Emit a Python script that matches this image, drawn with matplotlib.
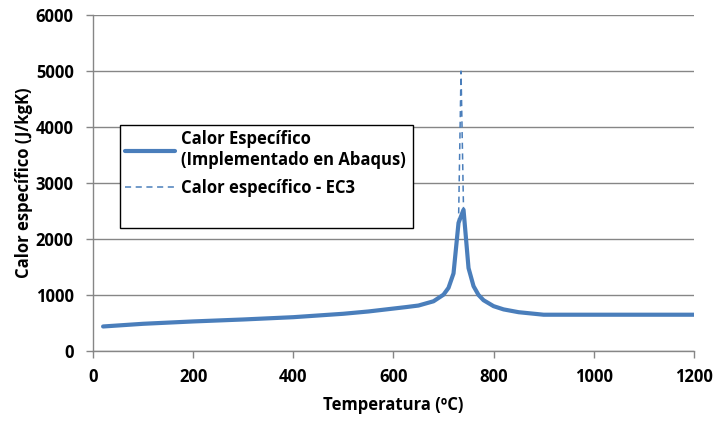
import matplotlib
matplotlib.use("Agg")
import matplotlib.pyplot as plt
from matplotlib.patches import Rectangle

plt.rcParams['font.family'] = ['Open Sans', 'DejaVu Sans']
plt.rcParams['font.weight'] = 'bold'

# Specific heat of steel vs temperature
temp_abaqus = [20, 100, 200, 300, 400, 500, 550, 600, 625, 650, 680, 700, 710, 720,
               730, 740, 750, 760, 770, 780, 800, 820, 850, 900, 1000, 1100, 1200]
cp_abaqus = [440, 488, 530, 565, 606, 667, 708, 760, 786, 814, 890, 1008, 1130, 1388,
             2291, 2525, 1483, 1160, 1002, 909, 803, 745, 695, 650, 650, 650, 650]

temp_ec3 = [20, 100, 200, 300, 400, 500, 550, 600, 625, 650, 680, 700, 710, 720,
            730, 735, 740, 750, 760, 770, 780, 800, 820, 850, 900, 1000, 1100, 1200]
cp_ec3 = [440, 488, 530, 565, 606, 667, 708, 760, 786, 814, 890, 1008, 1130, 1388,
          2291, 5000, 2525, 1483, 1160, 1002, 909, 803, 745, 695, 650, 650, 650, 650]

blue = '#4A7EBB'
grey = '#868686'
fs = 12

fig = plt.figure(figsize=(7.16, 4.21), dpi=100)
ax = fig.add_axes([0.130, 0.166, 0.839, 0.798])

ax.plot(temp_abaqus, cp_abaqus, color=blue, lw=3.0, solid_capstyle='round',
        label='Calor Específico\n(Implementado en Abaqus)', zorder=3)
ax.plot(temp_ec3, cp_ec3, color=blue, lw=1.1, ls=(0, (4, 3)),
        label='Calor específico - EC3', zorder=2)

ax.set_xlim(0, 1200)
ax.set_ylim(0, 6000)
ax.set_xticks(range(0, 1201, 200))
ax.set_yticks(range(0, 6001, 1000))

ax.yaxis.grid(True, color=grey, lw=1.0)
ax.set_axisbelow(True)
for side in ['top', 'right']:
    ax.spines[side].set_visible(False)
for side in ['left', 'bottom']:
    ax.spines[side].set_color(grey)
    ax.spines[side].set_linewidth(1.0)
ax.tick_params(axis='both', colors=grey, length=5, width=1.0, labelsize=fs,
               labelcolor='black')
ax.tick_params(axis='y', pad=9)
ax.tick_params(axis='x', pad=7)

ax.set_xlabel('Temperatura (ºC)', fontsize=fs, fontweight='bold', labelpad=7)
ax.set_ylabel('Calor específico (J/kgK)', fontsize=fs, fontweight='bold', labelpad=2)

# legend box with some empty room below the entries
box = Rectangle((0.045, 0.366), 0.487, 0.307, transform=ax.transAxes,
                facecolor='white', edgecolor='black', lw=1.0, zorder=4)
ax.add_patch(box)
leg = ax.legend(loc='upper left', bbox_to_anchor=(0.045, 0.673), fontsize=fs,
                handlelength=3.0, handletextpad=0.35, borderpad=0.3,
                borderaxespad=0, labelspacing=0.6, frameon=False)
leg.set_zorder(5)

fig.savefig('out.png', dpi=100)
